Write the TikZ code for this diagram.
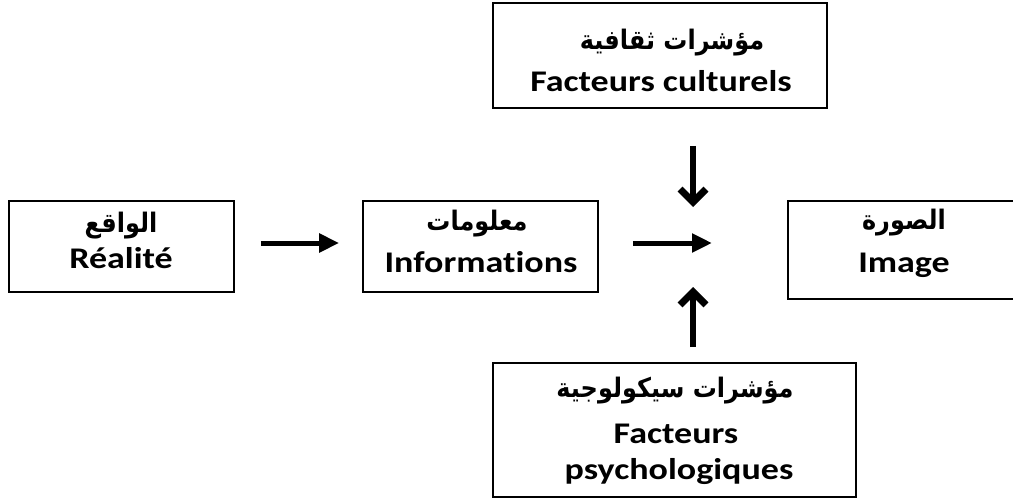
\documentclass[tikz,border=0pt]{standalone}
\usepackage{fontspec}
\newfontfamily\latinfont[Ligatures=NoCommon]{Carlito}
\newfontfamily\arabicfont[Script=Arabic]{DejaVu Sans}
\TeXXeTstate=1
\usetikzlibrary{calc,positioning,arrows.meta}
\tikzset{
  factorbox/.style={draw, line width=1.6pt, inner sep=0pt},
  artext/.style={font=\fontsize{24}{28}\arabicfont\bfseries, inner sep=0pt},
  frtext/.style={font=\fontsize{30}{36}\latinfont\bfseries, inner sep=0pt},
  flowarrow/.style={line width=5pt, -{Triangle[length=20pt,width=18pt]}},
  pusharrow/.style={line width=6pt, -{Straight Barb[length=13pt,width=26pt,line width=7pt]}},
}
\newcommand{\wide}[1]{\scalebox{1.2}[1]{#1}}
\newcommand{\tall}[1]{\scalebox{1}[1.12]{\beginR #1\endR}}

\begin{document}
\begin{tikzpicture}[x=1pt, y=-1pt]
	\clip (0,0) rectangle (1013,501);
	\fill[white] (0,0) rectangle (1013,501);

	% boxes
	\node[factorbox, minimum width=334pt, minimum height=105pt] (cult) at (660,55.5) {};
	\node[factorbox, minimum width=225pt, minimum height=91pt] (real) at (121.5,246.5) {};
	\node[factorbox, minimum width=235pt, minimum height=91pt] (info) at (480.5,246.5) {};
	\node[factorbox, minimum width=237pt, minimum height=98pt] (img) at (906.5,250) {};
	\node[factorbox, minimum width=363pt, minimum height=134pt] (psy) at (674.5,430) {};

	% texts
	\node[artext] (cult-ar) at (672,43) {\tall{مؤشرات ثقافية}};
	\node[frtext] (cult-fr) at (661,81) {\wide{Facteurs culturels}};
	\node[artext] (real-ar) at (121,226) {\tall{الواقع}};
	\node[frtext] (real-fr) at (121,258) {\wide{Réalité}};
	\node[artext] (info-ar) at (477,224) {\tall{معلومات}};
	\node[frtext] (info-fr) at (481,262) {\wide{Informations}};
	\node[artext] (img-ar) at (904,223) {\tall{الصورة}};
	\node[frtext] (img-fr) at (904,265) {\wide{Image}};
	\node[artext] (psy-ar) at (675,391) {\tall{مؤشرات سيكولوجية}};
	\node[frtext] (psy-fr1) at (676,434) {\wide{Facteurs}};
	\node[frtext] (psy-fr2) at (679,472) {\wide{psychologiques}};

	\coordinate (meet) at (693,243);

	\draw[flowarrow] ($(real.east |- meet)+(26,0)$) -- ($(info.west |- meet)+(-23,0)$);
	\draw[flowarrow] ($(info.east |- meet)+(34,0)$) -- ($(meet)+(19,0)$);
	\draw[pusharrow] ($(cult.south -| meet)+(0,37)$) -- ($(meet)+(0,-36)$);
	\draw[pusharrow] ($(psy.north -| meet)+(0,-15)$) -- ($(meet)+(0,44)$);
\end{tikzpicture}
\end{document}
